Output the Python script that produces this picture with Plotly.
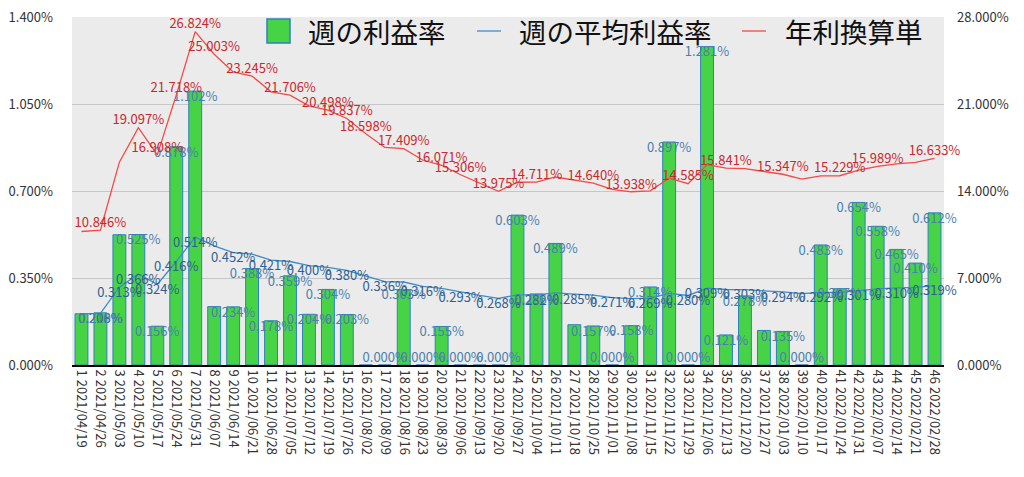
import plotly.graph_objects as go

weeks = list(range(1, 47))
dates = ["2021/04/19", "2021/04/26", "2021/05/03", "2021/05/10", "2021/05/17", "2021/05/24",
         "2021/05/31", "2021/06/07", "2021/06/14", "2021/06/21", "2021/06/28", "2021/07/05",
         "2021/07/12", "2021/07/19", "2021/07/26", "2021/08/02", "2021/08/09", "2021/08/16",
         "2021/08/23", "2021/08/30", "2021/09/06", "2021/09/13", "2021/09/20", "2021/09/27",
         "2021/10/04", "2021/10/11", "2021/10/18", "2021/10/25", "2021/11/01", "2021/11/08",
         "2021/11/15", "2021/11/22", "2021/11/29", "2021/12/06", "2021/12/13", "2021/12/20",
         "2021/12/27", "2022/01/03", "2022/01/10", "2022/01/17", "2022/01/24", "2022/01/31",
         "2022/02/07", "2022/02/14", "2022/02/21", "2022/02/28"]

weekly_rate = [0.206, 0.210, 0.524, 0.525, 0.156, 0.878, 1.102, 0.235, 0.234, 0.388,
               0.178, 0.359, 0.204, 0.304, 0.203, 0.000, 0.000, 0.303, 0.000, 0.155,
               0.000, 0.000, 0.000, 0.603, 0.286, 0.489, 0.162, 0.157, 0.000, 0.158,
               0.314, 0.897, 0.000, 1.281, 0.121, 0.278, 0.139, 0.135, 0.000, 0.483,
               0.307, 0.654, 0.558, 0.465, 0.410, 0.612]

avg_rate = [0.2060, 0.2080, 0.3130, 0.3662, 0.3243, 0.4165, 0.5144, 0.4795, 0.4522, 0.4458,
            0.4215, 0.4163, 0.3999, 0.3931, 0.3804, 0.3567, 0.3357, 0.3339, 0.3163, 0.3082,
            0.2935, 0.2802, 0.2680, 0.2820, 0.2821, 0.2901, 0.2853, 0.2808, 0.2711, 0.2673,
            0.2688, 0.2884, 0.2797, 0.3092, 0.3038, 0.3031, 0.2986, 0.2943, 0.2868, 0.2917,
            0.2921, 0.3007, 0.3066, 0.3102, 0.3125, 0.3190]

annual_rate = [10.741, 10.846, 16.321, 19.097, 16.908, 21.718, 26.824, 25.003, 23.579, 23.245,
               21.978, 21.706, 20.852, 20.498, 19.837, 18.598, 17.504, 17.409, 16.493, 16.071,
               15.306, 14.610, 13.975, 14.704, 14.711, 15.127, 14.876, 14.640, 14.136, 13.938,
               14.016, 15.038, 14.585, 16.123, 15.841, 15.805, 15.570, 15.347, 14.955, 15.210,
               15.229, 15.679, 15.989, 16.175, 16.295, 16.633]

# which data labels are visible in the reference (others hidden by overlap)
bar_label_hidden = [1, 3, 8, 16, 22, 27, 37]
avg_label_shown = [2, 3, 4, 5, 6, 7, 9, 11, 13, 15, 17, 19, 21, 23, 25, 27, 29, 31, 33,
                   34, 36, 38, 40, 42, 44, 46]
annual_label_shown = [2, 4, 5, 6, 7, 8, 10, 12, 14, 15, 16, 18, 20, 21, 23, 25, 28, 30, 33,
                      35, 38, 41, 43, 46]

series_names = ["週の利益率", "週の平均利益率", "年利換算単"]

ticktext = [f"{w} {d}" for w, d in zip(weeks, dates)]
FONT = "Noto Sans CJK JP"
GREEN = "#46d446"
BAR_EDGE = "#2f7fbf"
BLUE = "#3d8ccc"
RED = "#f04a4a"

bar_text = ["" if w in bar_label_hidden else f"{v:.3f}%" for w, v in zip(weeks, weekly_rate)]
bar_text_pos = ["top center" if v == 0 else "bottom center" for v in weekly_rate]
avg_text = [f"{v:.3f}%" if w in avg_label_shown else "" for w, v in zip(weeks, avg_rate)]
ann_text = [f"{v:.3f}%" if w in annual_label_shown else "" for w, v in zip(weeks, annual_rate)]

fig = go.Figure()
fig.add_trace(go.Bar(
    x=weeks, y=weekly_rate, name=series_names[0],
    marker=dict(color=GREEN, line=dict(color=BAR_EDGE, width=1)),
    hoverinfo="skip",
))
fig.add_trace(go.Scatter(
    x=weeks, y=avg_rate, name=series_names[1], mode="lines+text",
    line=dict(color=BLUE, width=1.3), cliponaxis=False,
    text=avg_text, textposition="bottom center",
    textfont=dict(family=FONT, size=13, color="#2f5f8f"),
))
fig.add_trace(go.Scatter(
    x=weeks, y=annual_rate, name=series_names[2], mode="lines+text", yaxis="y2",
    line=dict(color=RED, width=1.3), cliponaxis=False,
    text=ann_text, textposition="top center",
    textfont=dict(family=FONT, size=13, color="#c8282e"),
))
fig.add_trace(go.Scatter(
    x=weeks, y=weekly_rate, mode="text", showlegend=False, cliponaxis=False,
    text=bar_text, textposition=bar_text_pos,
    textfont=dict(family=FONT, size=13, color="#4a7fae"),
))

# Plot area in screen pixels; the page body has an 8px default margin
OFF = 8
SL, SR, ST, SB = 72, 944, 17, 365
W, H = SR - SL, SB - ST
def px(x):
    return (x - SL) / W
def py(y):
    return (SB - y) / H

# Manual legend (large symbols, as in the reference)
shapes = [
    dict(type="rect", xref="paper", yref="paper", x0=px(267), x1=px(290), y0=py(43), y1=py(19),
         fillcolor=GREEN, line=dict(color=BAR_EDGE, width=1.5)),
    dict(type="line", xref="paper", yref="paper", x0=px(477), x1=px(501), y0=py(31), y1=py(31),
         line=dict(color=BLUE, width=1.3)),
    dict(type="line", xref="paper", yref="paper", x0=px(742), x1=px(766), y0=py(31), y1=py(31),
         line=dict(color=RED, width=1.3)),
]
annotations = [
    dict(text=series_names[0], xref="paper", yref="paper", x=px(306), y=py(31),
         xanchor="left", yanchor="middle", showarrow=False,
         font=dict(family=FONT, size=27.5, color="#111111")),
    dict(text=series_names[1], xref="paper", yref="paper", x=px(517), y=py(31),
         xanchor="left", yanchor="middle", showarrow=False,
         font=dict(family=FONT, size=27.5, color="#111111")),
    dict(text=series_names[2], xref="paper", yref="paper", x=px(783), y=py(31),
         xanchor="left", yanchor="middle", showarrow=False,
         font=dict(family=FONT, size=27.5, color="#111111")),
]

fig.update_layout(
    width=1024, height=477,
    margin=dict(l=SL - OFF, r=1024 - (SR - OFF), t=ST - OFF, b=477 - (SB - OFF),
                autoexpand=False),
    paper_bgcolor="white", plot_bgcolor="#ebebeb",
    font=dict(family=FONT, size=13, color="#333333"),
    bargap=0.32,
    showlegend=False,
    shapes=shapes, annotations=annotations,
    xaxis=dict(range=[0.5, 46.5], tickmode="array", tickvals=weeks, ticktext=ticktext,
               tickangle=90, tickfont=dict(family=FONT, size=13, color="#333333"),
               showgrid=False, zeroline=False, showline=True, linecolor="black", linewidth=2,
               ticks="", automargin=False),
    yaxis=dict(range=[0, 1.4], tickmode="array", tickvals=[0, 0.35, 0.7, 1.05, 1.4],
               ticktext=["0.000%", "0.350%", "0.700%", "1.050%", "1.400%"],
               showgrid=True, gridcolor="#c6c6c6", gridwidth=1, zeroline=False,
               tickfont=dict(family=FONT, size=13, color="#333333"),
               ticklabelstandoff=18, ticklabeloverflow="allow", automargin=False),
    yaxis2=dict(range=[0, 28], overlaying="y", side="right", tickmode="array",
                tickvals=[0, 7, 14, 21, 28],
                ticktext=["0.000%", "7.000%", "14.000%", "21.000%", "28.000%"],
                showgrid=False, zeroline=False,
                tickfont=dict(family=FONT, size=13, color="#333333"),
                ticklabelstandoff=12, ticklabeloverflow="allow", automargin=False),
)

fig.write_html("out.html")
